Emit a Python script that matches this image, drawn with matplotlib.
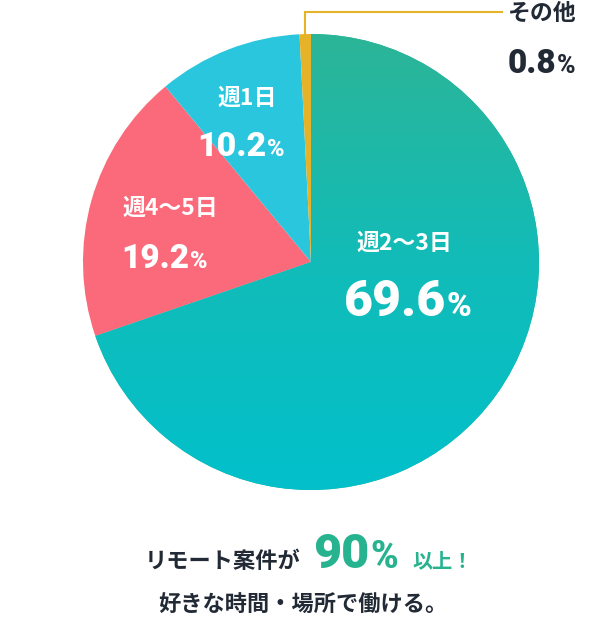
import matplotlib
matplotlib.use("Agg")
import matplotlib.pyplot as plt
import numpy as np
from matplotlib.colors import LinearSegmentedColormap

plt.rcParams['font.family'] = ['Noto Sans CJK JP', 'DejaVu Sans']

# ---- data ----
categories = ["週2〜3日", "週4〜5日", "週1日", "その他"]
values = [69.6, 19.2, 10.2, 0.8]
value_labels = ["69.6", "19.2", "10.2", "0.8"]
colors = ["#2bb597", "#fb6a7b", "#29c6dd", "#e6b228"]
headline_pre = "リモート案件が"
headline_num = "90"
headline_post = "以上！"
subline = "好きな時間・場所で働ける。"

NUMFONT = ['Roboto']
NUMWEIGHT = 900
DARK = "#222a36"
GREEN = "#27b38f"

fig = plt.figure(figsize=(6.12, 6.18), dpi=100)
ax = fig.add_axes([0, 0, 1, 1])

cx, cy, R = 311, 262, 228
wedges, _ = ax.pie(values, colors=colors, startangle=-90, counterclock=True,
                   radius=R, center=(cx, cy), frame=True,
                   wedgeprops=dict(linewidth=0))

# gradient fill for the main wedge
cmap = LinearSegmentedColormap.from_list("tg", ["#2cb597", "#12bcb8", "#02c0cb"])
grad = np.linspace(0, 1, 256).reshape(-1, 1)
im = ax.imshow(grad, cmap=cmap, extent=(cx - R, cx + R, cy + R, cy - R),
               origin='upper', aspect='auto', zorder=wedges[0].get_zorder() + 0.1)
im.set_clip_path(wedges[0])
ax.set_xlim(0, 612)
ax.set_ylim(618, 0)
ax.set_aspect('auto')
ax.axis('off')


def num_pct(xs, yb, num, nsize, psize, color, gap=1):
    ax.text(xs, yb, num, ha='right', va='baseline', fontsize=nsize,
            fontweight=NUMWEIGHT, color=color, family=NUMFONT, zorder=5)
    ax.text(xs + gap, yb, "%", ha='left', va='baseline', fontsize=psize,
            fontweight=NUMWEIGHT, color=color, family=NUMFONT, zorder=5)


# slice labels
ax.text(404, 243, categories[0], ha='center', va='center', fontsize=16.5,
        fontweight='bold', color='white', zorder=5)
num_pct(446, 316, value_labels[0], 36, 24, 'white')

ax.text(170, 208, categories[1], ha='center', va='center', fontsize=16.5,
        fontweight='bold', color='white', zorder=5)
num_pct(189, 268, value_labels[1], 24, 17, 'white')

ax.text(247, 98, categories[2], ha='center', va='center', fontsize=16.5,
        fontweight='bold', color='white', zorder=5)
num_pct(266, 156, value_labels[2], 24.5, 17, 'white')

# leader line for その他
ax.plot([305, 305, 502], [34, 12, 12], color=colors[3], lw=1.5,
        solid_joinstyle='miter', zorder=4)
ax.text(542, 13, categories[3], ha='center', va='center', fontsize=16.5,
        fontweight='bold', color=DARK, zorder=5)
num_pct(556, 73, value_labels[3], 24, 18, DARK)

# bottom headline
ax.text(300, 562, headline_pre, ha='right', va='center', fontsize=16,
        fontweight='bold', color=DARK)
ax.text(369, 568, headline_num, ha='right', va='baseline', fontsize=35,
        fontweight=NUMWEIGHT, color=GREEN, family=NUMFONT)
ax.text(370, 568, "%", ha='left', va='baseline', fontsize=27,
        fontweight=NUMWEIGHT, color=GREEN, family=NUMFONT)
ax.text(412, 561, headline_post, ha='left', va='center', fontsize=14.5,
        fontweight='bold', color=GREEN)
ax.text(303, 605, subline, ha='center', va='center', fontsize=16,
        fontweight='bold', color=DARK)

fig.savefig("out.png", dpi=100)
